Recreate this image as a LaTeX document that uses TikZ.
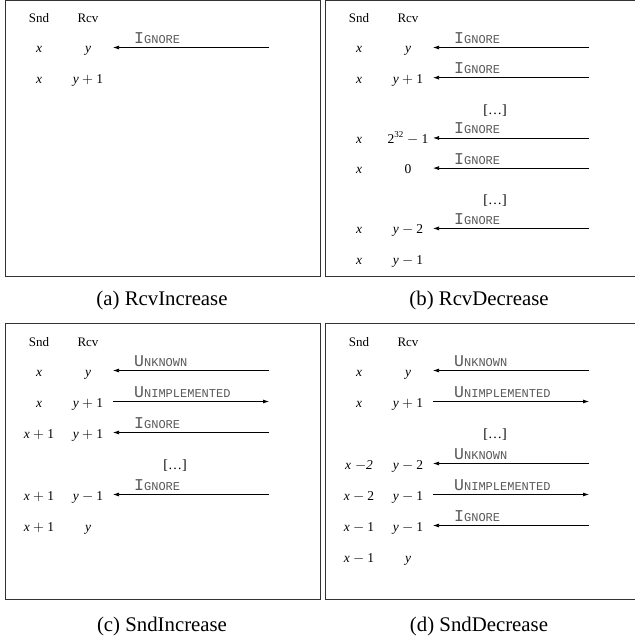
\documentclass[tikz,border=0pt]{standalone}
\usepackage{fontspec}
\setmainfont{Liberation Serif}
\newfontfamily\lmono{Liberation Mono}
\usetikzlibrary{arrows.meta}

\tikzset{
  x=1pt, y=-1pt,
  panel/.style={draw=black!80, line width=0.9pt},
  cell/.style={anchor=base, inner sep=0pt, font=\fontsize{13.5}{13.5}\selectfont},
  head/.style={anchor=base, inner sep=0pt, font=\fontsize{13}{13}\selectfont},
  dots/.style={anchor=center, inner sep=0pt, font=\fontsize{14}{14}\selectfont},
  lbl/.style={anchor=base west, inner sep=0pt, text=black!65},
  msg/.style={line width=0.75pt, -{Latex[length=6pt,width=4pt]}},
  capt/.style={anchor=base, inner sep=0pt, font=\fontsize{20.8}{21}\selectfont},
}
\newcommand\vx{\textit{x}}
\newcommand\vy{\textit{y}}
\newcommand\dg[1]{\textrm{#1}}
\newcommand\smcp[2]{{\lmono\fontsize{16.5}{16.5}\selectfont #1\fontsize{12}{12}\selectfont #2}}
% #1 name, #2 panel left, #3 row centre, #4 snd, #5 rcv
\newcommand\strow[5]{%
  \node[cell] (#1s) at (#2+34, #3+3) {#4};
  \node[cell] (#1r) at (#2+83, #3+3) {#5};
}
% left-pointing message
\newcommand\msgl[5]{%
  \coordinate (#1a) at (#2+108, #3-2.5);
  \coordinate (#1b) at (#2+264, #3-2.5);
  \draw[msg] (#1b) -- (#1a);
  \node[lbl] (#1t) at (#2+129, #3-6.5) {\smcp{#4}{#5}};
}
% right-pointing message
\newcommand\msgr[5]{%
  \coordinate (#1a) at (#2+108, #3-2.5);
  \coordinate (#1b) at (#2+264, #3-2.5);
  \draw[msg] (#1a) -- (#1b);
  \node[lbl] (#1t) at (#2+129, #3-6.5) {\smcp{#4}{#5}};
}

\begin{document}
\begin{tikzpicture}
\useasboundingbox (0,0) rectangle (634,644);

% panel frames
\draw[panel] (5,0.5) rectangle (320,276.5);
\draw[panel] (325,0.5) rectangle (636,276.5);
\draw[panel] (5,323.5) rectangle (320,599);
\draw[panel] (325,323.5) rectangle (636,599);

% ---------- (a) ----------
\node[head] (ahs) at (39,23) {Snd};
\node[head] (ahr) at (88,23) {Rcv};
\strow{a1}{5}{50}{$\vx$}{$\vy$}
\msgl{a1}{5}{50}{I}{GNORE}
\strow{a2}{5}{81}{$\vx$}{$\vy+\dg{1}$}
\node[capt] (capa) at (162,305) {(a) RcvIncrease};

% ---------- (b) ----------
\node[head] (bhs) at (359,23) {Snd};
\node[head] (bhr) at (408,23) {Rcv};
\strow{b1}{325}{50}{$\vx$}{$\vy$}
\msgl{b1}{325}{50}{I}{GNORE}
\strow{b2}{325}{80.15}{$\vx$}{$\vy+\dg{1}$}
\msgl{b2}{325}{80.15}{I}{GNORE}
\node[dots] (bd1) at (495,110.3) {[…]};
\strow{b4}{325}{140.45}{$\vx$}{$\dg{2}^{\mbox{\fontsize{9}{9}\selectfont 32}}-\dg{1}$}
\msgl{b4}{325}{140.45}{I}{GNORE}
\strow{b5}{325}{170.6}{$\vx$}{\dg{0}}
\msgl{b5}{325}{170.6}{I}{GNORE}
\node[dots] (bd2) at (495,200.75) {[…]};
\strow{b7}{325}{230.9}{$\vx$}{$\vy-\dg{2}$}
\msgl{b7}{325}{230.9}{I}{GNORE}
\strow{b8}{325}{261.05}{$\vx$}{$\vy-\dg{1}$}
\node[capt] (capb) at (479,305) {(b) RcvDecrease};

% ---------- (c) ----------
\node[head] (chs) at (39,346) {Snd};
\node[head] (chr) at (88,346) {Rcv};
\strow{c1}{5}{373}{$\vx$}{$\vy$}
\msgl{c1}{5}{373}{U}{NKNOWN}
\strow{c2}{5}{404}{$\vx$}{$\vy+\dg{1}$}
\msgr{c2}{5}{404}{U}{NIMPLEMENTED}
\strow{c3}{5}{435}{$\vx+\dg{1}$}{$\vy+\dg{1}$}
\msgl{c3}{5}{435}{I}{GNORE}
\node[dots] (cd1) at (175,466) {[…]};
\strow{c5}{5}{497}{$\vx+\dg{1}$}{$\vy-\dg{1}$}
\msgl{c5}{5}{497}{I}{GNORE}
\strow{c6}{5}{528}{$\vx+\dg{1}$}{$\vy$}
\node[capt] (capc) at (162,631) {(c) SndIncrease};

% ---------- (d) ----------
\node[head] (dhs) at (359,346) {Snd};
\node[head] (dhr) at (408,346) {Rcv};
\strow{d1}{325}{373}{$\vx$}{$\vy$}
\msgl{d1}{325}{373}{U}{NKNOWN}
\strow{d2}{325}{404}{$\vx$}{$\vy+\dg{1}$}
\msgr{d2}{325}{404}{U}{NIMPLEMENTED}
\node[dots] (dd1) at (495,435) {[…]};
\strow{d4}{325}{466}{$\vx\;{-}\textit{2}$}{$\vy-\dg{2}$}
\msgl{d4}{325}{466}{U}{NKNOWN}
\strow{d5}{325}{497}{$\vx-\dg{2}$}{$\vy-\dg{1}$}
\msgr{d5}{325}{497}{U}{NIMPLEMENTED}
\strow{d6}{325}{528}{$\vx-\dg{1}$}{$\vy-\dg{1}$}
\msgl{d6}{325}{528}{I}{GNORE}
\strow{d7}{325}{559}{$\vx-\dg{1}$}{$\vy$}
\node[capt] (capd) at (479,631) {(d) SndDecrease};
\end{tikzpicture}
\end{document}
